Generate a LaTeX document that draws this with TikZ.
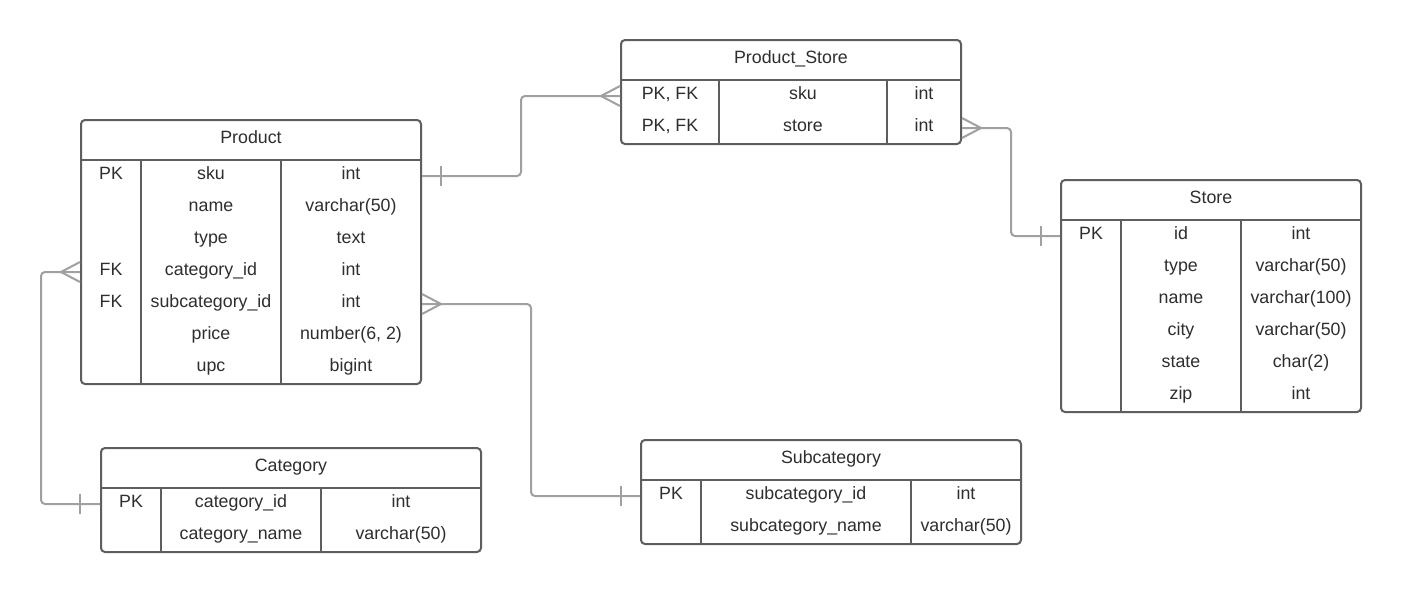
\documentclass[tikz,border=0pt]{standalone}
\usepackage{fontspec}
\setmainfont{Liberation Sans}
\definecolor{tblc}{HTML}{5E5E5E}
\definecolor{connc}{HTML}{A0A0A0}
\definecolor{txtc}{HTML}{2E2E2E}
\begin{document}
\begin{tikzpicture}[x=1pt,y=-1pt,
  tbl/.style={draw=tblc, line width=2pt, rounded corners=4pt, inner sep=0pt, fill=white},
  tbline/.style={draw=tblc, line width=2pt},
  txt/.style={anchor=base, inner sep=0pt, text=txtc, font=\fontsize{17.8}{20}\selectfont, yshift=1pt},
  conn/.style={draw=connc, line width=2pt, rounded corners=4pt},
  crow/.style={draw=connc, line width=2pt},
]
\useasboundingbox[fill=white] (0,0) rectangle (1401,592);

% ---------------- Product ----------------
\node[tbl, minimum width=340pt, minimum height=264pt] (product) at (251,252) {};
\draw[tbline] (product.west |- 0,160) -- (product.east |- 0,160);
\draw[tbline] (141,160) -- (141,384);
\draw[tbline] (281,160) -- (281,384);
\node[txt] (product-t) at (251,144) {Product};
\node[txt] (product-k1) at (111,180) {PK};
\node[txt] (product-k4) at (111,276) {FK};
\node[txt] (product-k5) at (111,308) {FK};
\foreach \i/\n/\t in {0/sku/int,1/name/varchar(50),2/type/text,3/category\_id/int,4/subcategory\_id/int,5/price/{number(6, 2)},6/upc/bigint}{
  \node[txt] (product-n\i) at (211,180+32*\i) {\n};
  \node[txt] (product-y\i) at (351,180+32*\i) {\t};
}

% ---------------- Product_Store ----------------
\node[tbl, minimum width=340pt, minimum height=104pt] (ps) at (791,92) {};
\draw[tbline] (ps.west |- 0,80) -- (ps.east |- 0,80);
\draw[tbline] (719,80) -- (719,144);
\draw[tbline] (887,80) -- (887,144);
\node[txt] (ps-t) at (791,64) {Product\_Store};
\foreach \i/\n in {0/sku,1/store}{
  \node[txt] (ps-k\i) at (670,100+32*\i) {PK, FK};
  \node[txt] (ps-n\i) at (803,100+32*\i) {\n};
  \node[txt] (ps-y\i) at (924,100+32*\i) {int};
}

% ---------------- Store ----------------
\node[tbl, minimum width=300pt, minimum height=232pt] (store) at (1211,296) {};
\draw[tbline] (store.west |- 0,220) -- (store.east |- 0,220);
\draw[tbline] (1121,220) -- (1121,412);
\draw[tbline] (1241,220) -- (1241,412);
\node[txt] (store-t) at (1211,204) {Store};
\node[txt] (store-k0) at (1091,240) {PK};
\foreach \i/\n/\t in {0/id/int,1/type/varchar(50),2/name/varchar(100),3/city/varchar(50),4/state/char(2),5/zip/int}{
  \node[txt] (store-n\i) at (1181,240+32*\i) {\n};
  \node[txt] (store-y\i) at (1301,240+32*\i) {\t};
}

% ---------------- Category ----------------
\node[tbl, minimum width=380pt, minimum height=104pt] (cat) at (291,500) {};
\draw[tbline] (cat.west |- 0,488) -- (cat.east |- 0,488);
\draw[tbline] (161,488) -- (161,552);
\draw[tbline] (321,488) -- (321,552);
\node[txt] (cat-t) at (291,472) {Category};
\node[txt] (cat-k0) at (131,508) {PK};
\node[txt] (cat-n0) at (241,508) {category\_id};
\node[txt] (cat-y0) at (401,508) {int};
\node[txt] (cat-n1) at (241,540) {category\_name};
\node[txt] (cat-y1) at (401,540) {varchar(50)};

% ---------------- Subcategory ----------------
\node[tbl, minimum width=380pt, minimum height=104pt] (sub) at (831,492) {};
\draw[tbline] (sub.west |- 0,480) -- (sub.east |- 0,480);
\draw[tbline] (701,480) -- (701,544);
\draw[tbline] (911,480) -- (911,544);
\node[txt] (sub-t) at (831,464) {Subcategory};
\node[txt] (sub-k0) at (671,500) {PK};
\node[txt] (sub-n0) at (806,500) {subcategory\_id};
\node[txt] (sub-y0) at (966,500) {int};
\node[txt] (sub-n1) at (806,532) {subcategory\_name};
\node[txt] (sub-y1) at (966,532) {varchar(50)};

% ---------------- Connectors ----------------
% Product.sku -> Product_Store.sku
\draw[conn] (product.east |- 0,176) -| (521,136) |- (ps.west |- 0,96);
\draw[crow] (441,166) -- (441,186);
\draw[crow] (ps.west |- 0,86) -- (601,96) -- (ps.west |- 0,106);

% Product_Store.store -> Store.id
\draw[conn] (ps.east |- 0,128) -| (1011,180) |- (store.west |- 0,236);
\draw[crow] (ps.east |- 0,118) -- (981,128) -- (ps.east |- 0,138);
\draw[crow] (1041,226) -- (1041,246);

% Product.category_id -> Category.category_id
\draw[conn] (product.west |- 0,272) -| (41,400) |- (cat.west |- 0,504);
\draw[crow] (product.west |- 0,262) -- (61,272) -- (product.west |- 0,282);
\draw[crow] (80,494) -- (80,514);

% Product.subcategory_id -> Subcategory.subcategory_id
\draw[conn] (product.east |- 0,304) -| (531,400) |- (sub.west |- 0,496);
\draw[crow] (product.east |- 0,294) -- (441,304) -- (product.east |- 0,314);
\draw[crow] (621,486) -- (621,506);
\end{tikzpicture}
\end{document}
